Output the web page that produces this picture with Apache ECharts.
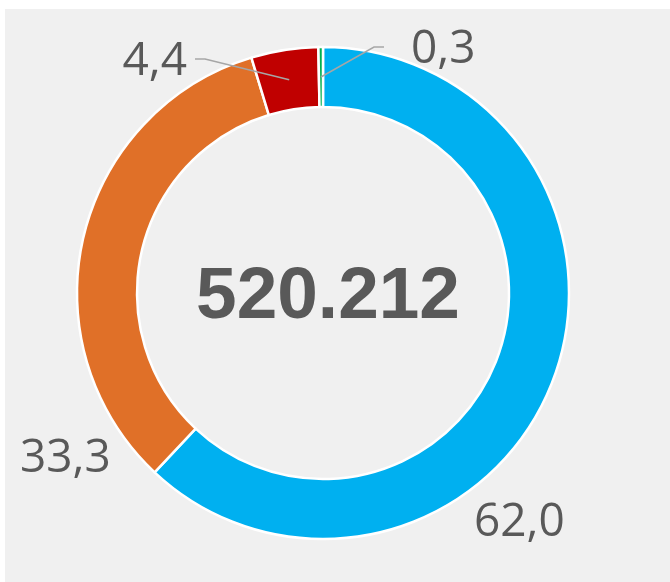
<!DOCTYPE html>
<html>
<head>
<meta charset="utf-8">
<script src="https://cdn.jsdelivr.net/npm/echarts@6/dist/echarts.min.js"></script>
<style>
  html, body { margin: 0; padding: 0; background: #ffffff; }
  #panel { position: absolute; left: 5px; top: 9px; right: 0; bottom: 0; background: #f0f0f0; }
  #chart { position: absolute; left: 0; top: 0; width: 670px; height: 582px; }
</style>
</head>
<body>
<div id="panel"></div>
<div id="chart"></div>
<script>
// data
const categories = ['A', 'B', 'C', 'D']
const shares = [62.0, 33.3, 4.4, 0.3]
const colors = ['#00b0f0', '#e07028', '#c00000', '#00b050']
const totalLabel = '520.212'

// label placement (pixels) : [x, y, align]
const labelPos = [
  [474, 523, 'left'],
  [20, 459, 'left'],
  [187, 62, 'right'],
  [411, 50, 'left']
]
const showLine = [false, false, true, true]

const cx = 323, cy = 293, rIn = 186, rOut = 246

let chartDom = document.getElementById('chart')
let myChart = echarts.init(chartDom, null, { renderer: 'canvas' })

const total = shares.reduce((a, b) => a + b, 0)
function midAngle(i) {
  let before = 0
  for (let k = 0; k < i; k++) before += shares[k]
  const mid = before + shares[i] / 2
  return (90 - mid / total * 360) * Math.PI / 180
}

const pieData = shares.map((v, i) => ({
  name: categories[i],
  value: v,
  itemStyle: { color: colors[i] },
  labelLine: { show: showLine[i] }
}))

let option = {
  animation: false,
  graphic: [{
    type: 'text',
    x: cx + 5,
    y: cy - 32,
    z: 10,
    style: {
      text: totalLabel,
      align: 'center',
      fontFamily: 'Liberation Sans, Arial, sans-serif',
      fontWeight: 'bold',
      fontSize: 73,
      fill: '#595959'
    }
  }],
  series: [
    {
      // the ring itself
      type: 'pie',
      z: 2,
      center: [cx, cy],
      radius: [rIn, rOut],
      startAngle: 90,
      clockwise: true,
      itemStyle: { borderColor: '#ffffff', borderWidth: 2.5 },
      emphasis: { disabled: true },
      label: { show: false },
      labelLine: { show: false },
      data: pieData.map(d => ({ name: d.name, value: d.value, itemStyle: d.itemStyle }))
    },
    {
      // same slices, invisible, only carrying the labels on top
      type: 'pie',
      z: 5,
      silent: true,
      center: [cx, cy],
      radius: [rIn, rOut],
      startAngle: 90,
      clockwise: true,
      avoidLabelOverlap: false,
      itemStyle: { color: 'rgba(0,0,0,0)', borderWidth: 0 },
      emphasis: { disabled: true },
      label: {
        show: true,
        position: 'outside',
        formatter: (p) => p.value.toFixed(1).replace('.', ','),
        fontFamily: 'Open Sans, sans-serif',
        fontWeight: 'normal',
        fontSize: 46,
        color: '#595959'
      },
      labelLine: {
        show: true,
        lineStyle: { color: '#a6a6a6', width: 1.5 }
      },
      labelLayout: function (params) {
        const i = params.dataIndex
        const pos = labelPos[i]
        const res = { x: pos[0], y: pos[1], align: pos[2], verticalAlign: 'middle' }
        if (showLine[i]) {
          const a = midAngle(i)
          const rMid = (rIn + rOut) / 2
          const start = [cx + rMid * Math.cos(a), cy - rMid * Math.sin(a)]
          const dir = pos[2] === 'right' ? 1 : -1
          const gap = pos[2] === 'right' ? 8 : 27
          const end = [pos[0] + dir * gap, pos[1] - 3]
          const bend = [end[0] + dir * 10, end[1]]
          res.labelLinePoints = [start, bend, end]
        }
        return res
      },
      data: pieData.map(d => ({ name: d.name, value: d.value, labelLine: d.labelLine }))
    }
  ]
}

option && myChart.setOption(option)
</script>
</body>
</html>
